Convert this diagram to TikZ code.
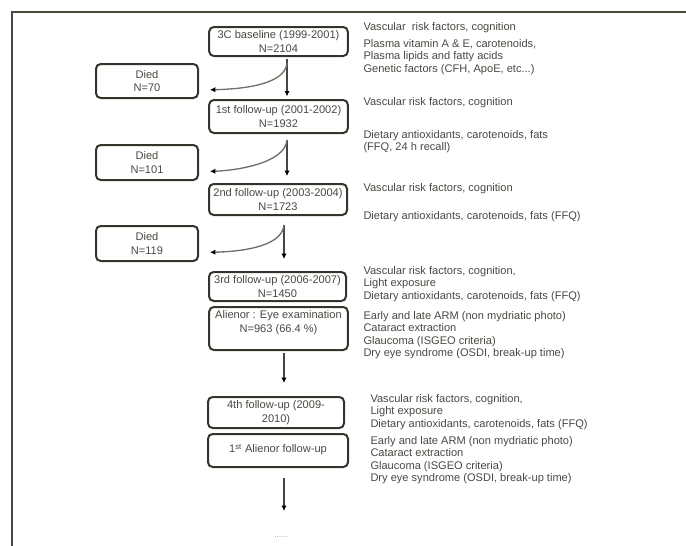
\documentclass[tikz,border=0pt]{standalone}
\usepackage{fontspec}
\setmainfont{Liberation Sans}
\usepackage{tikz}
\usetikzlibrary{
  arrows.meta
}
\tikzset{every picture/.style={line width=0.75pt}}
\tikzset{
  box/.style={draw={rgb, 255:red, 52; green, 52; blue, 44 }, line width=1.5pt, rounded corners=3.5pt, minimum width=104pt, inner sep=1pt, align=center, font=\fontsize{8.3pt}{10.4pt}\selectfont, text={rgb, 255:red, 72; green, 72; blue, 66 }},
  diedbox/.style={box, minimum width=76.5pt},
  info/.style={anchor=north west, inner sep=0pt, align=left, font=\fontsize{8.3pt}{9.4pt}\selectfont, text={rgb, 255:red, 72; green, 72; blue, 66 }},
  flow/.style={draw={rgb, 255:red, 70; green, 70; blue, 64 }, line width=1pt, -{Latex[length=4pt, width=4pt, black]}},
  death/.style={draw={rgb, 255:red, 112; green, 112; blue, 104 }, line width=1pt, -{Latex[length=4pt, width=4pt, black]}, shorten >=8.25pt}
}
\begin{document}
\begin{tikzpicture}[x=0.75pt,y=0.75pt,yscale=-1,xscale=1]
\path [use as bounding box] (0,0) rectangle (686,546);

%Straight Lines [frame]
\draw [line width=1.2pt, color={rgb, 255:red, 74; green, 74; blue, 64 }]  (12,546) -- (12,12) -- (686,12) ;

% Text Node
\draw (278.5,41.5) node [box, minimum height=21.75pt] (base) {3C baseline (1999-2001)\\N=2104};
% Text Node
\draw (147,81) node [diedbox, minimum height=25.5pt] (died1) {Died\\N=70};
% Text Node
\draw (278.5,116.5) node [box, minimum height=24.75pt] (fu1) {1st follow-up (2001-2002)\\N=1932};
% Text Node
\draw (147,162.5) node [diedbox, minimum height=26.25pt] (died2) {Died\\N=101};
% Text Node
\draw (278,199.5) node [box, minimum width=103.5pt, minimum height=23.25pt] (fu2) {2nd follow-up (2003-2004)\\N=1723};
% Text Node
\draw (147,243.5) node [diedbox, minimum height=26.25pt] (died3) {Died\\N=119};
% Text Node
\draw (277.5,286.5) node [box, minimum width=102.75pt, minimum height=21.75pt] (fu3) {3rd follow-up (2006-2007)\\N=1450};
% Text Node
\draw (278.5,328.5) node [box, minimum height=32.25pt] (eye) {Alienor : Eye examination\\N=963 (66.4 \%)\\ \mbox{}};
% Text Node
\draw (276,412.5) node [box, minimum width=102pt, minimum height=23.25pt] (fu4) {4th follow-up (2009-\\2010)};
% Text Node
\draw (278,450.5) node [box, minimum width=105pt, minimum height=24.75pt] (eye1) {\mbox{}\\[-5pt]1\textsuperscript{st} Alienor follow-up};

% Text Node
\draw (363,21.5) node [info] (info0) {Vascular~ risk factors, cognition\\[3.4pt]Plasma vitamin A \& E, carotenoids,\\Plasma lipids and fatty acids\\Genetic factors (CFH, ApoE, etc...)};
% Text Node
\draw (363,96.5) node [info] (info1) {Vascular risk factors, cognition\\[15.4pt]Dietary antioxidants, carotenoids, fats\\(FFQ, 24 h recall)};
% Text Node
\draw (363,182.5) node [info] (info2) {Vascular risk factors, cognition\\[11.6pt]Dietary antioxidants, carotenoids, fats (FFQ)};
% Text Node
\draw (363,265.5) node [info] (info3) {Vascular risk factors, cognition,\\Light exposure\\Dietary antioxidants, carotenoids, fats (FFQ)};
% Text Node
\draw (363,310.5) node [info] (info3b) {Early and late ARM (non mydriatic photo)\\Cataract extraction\\Glaucoma (ISGEO criteria)\\Dry eye syndrome (OSDI, break-up time)};
% Text Node
\draw (370,393.5) node [info] (info4) {Vascular risk factors, cognition,\\Light exposure\\Dietary antioxidants, carotenoids, fats (FFQ)};
% Text Node
\draw (370,435.5) node [info] (info4b) {Early and late ARM (non mydriatic photo)\\Cataract extraction\\Glaucoma (ISGEO criteria)\\Dry eye syndrome (OSDI, break-up time)};
% Text Node
\draw (281,537) node [font=\fontsize{6pt}{6pt}\selectfont, text={rgb, 255:red, 160; green, 160; blue, 150 }] (dots) {......};

%Straight Lines
\draw [flow, shorten <=1.5pt, shorten >=2pt]  ([xshift=6.4pt]base.south) -- coordinate[pos=0.14] (split1) ([xshift=6.4pt]base.south |- fu1.north) ;
%Straight Lines
\draw [flow, shorten <=4.5pt, shorten >=5.25pt]  ([xshift=6.4pt]fu1.south) -- coordinate[pos=0.12] (split2) ([xshift=6.4pt]fu1.south |- fu2.north) ;
%Straight Lines
\draw [flow, shorten <=6.75pt, shorten >=9pt]  ([xshift=4.5pt]fu2.south) -- coordinate[pos=0.16] (split3) ([xshift=4.5pt]fu2.south |- fu3.north) ;
%Straight Lines
\draw [flow, shorten <=1.5pt, shorten >=9.75pt]  ([xshift=4.1pt]eye.south) -- ([xshift=4.1pt]eye.south |- fu4.north) ;
%Straight Lines
\coordinate (more) at (284,511);
\draw [flow, shorten <=7.5pt]  (more |- eye1.south) -- (more) ;

%Curve Lines
\draw [death]  (split1) .. controls +(-2,24) and +(35,-1) .. (died1.-10) ;
%Curve Lines
\draw [death]  (split2) .. controls +(-2,24) and +(35,-1) .. (died2.-10) ;
%Curve Lines
\draw [death]  (split3) .. controls +(-2,24) and +(35,-1) .. (died3.-10) ;

\end{tikzpicture}
\end{document}
